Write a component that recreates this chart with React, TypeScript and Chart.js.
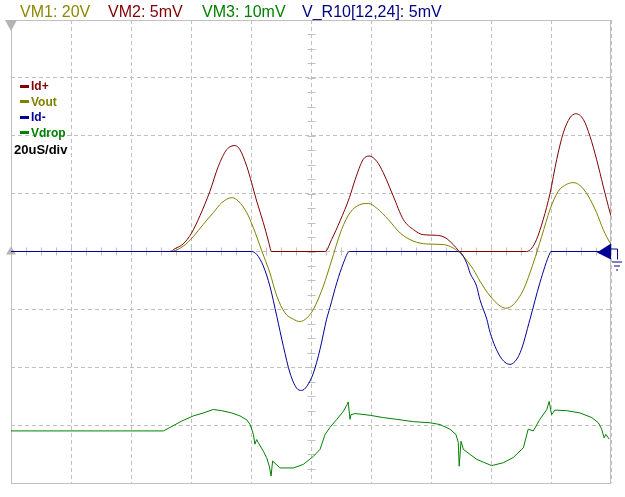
import React, { useEffect, useRef } from "react";
import { Chart, registerables } from "chart.js";

Chart.register(...registerables);

// Time axis: 20 uS/div, 10 divisions. Vertical: 8 divisions.
const timeMin = 0;
const timeMax = 200;
const timeStep = 20;
const divMin = -4;
const divMax = 4;

const headerLabels = ["VM1: 20V", "VM2: 5mV", "VM3: 10mV", "V_R10[12,24]: 5mV"];
const headerColors = ["#8c8800", "#800000", "#008000", "#000080"];

const seriesNames = ["Id+", "Vout", "Id-", "Vdrop"];
const seriesColors = ["#800000", "#808000", "#000096", "#008000"];
const timebaseLabel = "20uS/div";

// Id+ (divisions)
const idPlusT = [0, 53, 54.7, 57.4, 60.2, 63.0, 66.3, 69.1, 71.9, 74.7, 76.3, 78.6, 80.2, 81.9, 84.1, 85.8, 86.6, 86.8,
  104.7, 106.9, 109.7, 112.8, 114.7, 117.4, 119.4, 121.9, 124.1, 127.4, 130.8, 134.1, 137.4, 141.9, 144.7, 147.4, 149.1, 149.5,
  171.9, 173.6, 175.2, 177.4, 179.7, 181.9, 184.1, 186.3, 188.3, 190.8, 193.0, 195.2, 197.4, 199.7, 200];
const idPlusV = [0, 0, 0.05, 0.13, 0.32, 0.62, 1.04, 1.47, 1.76, 1.83, 1.76, 1.47, 1.19, 0.87, 0.5, 0.18, 0.02, 0,
  0, 0.21, 0.53, 0.93, 1.24, 1.59, 1.65, 1.56, 1.36, 0.96, 0.55, 0.38, 0.29, 0.28, 0.24, 0.12, 0.02, 0,
  0, 0.06, 0.21, 0.55, 1.01, 1.59, 2.05, 2.31, 2.38, 2.28, 1.99, 1.59, 1.13, 0.67, 0.62];

// Vout
const voutT = [0, 53, 57.4, 60.8, 64.1, 67.4, 70.2, 73.6, 75.8, 78.6, 80.8, 83.6, 86.3, 88.6, 91.3, 94.1, 96.3, 98.6, 100.8,
  104.1, 106.6, 110.2, 113.0, 116.3, 119.1, 121.9, 125.8, 129.7, 134.1, 138.6, 144.1, 147.4, 150.2, 154.1, 156.3, 159.7,
  163.0, 165.0, 167.4, 170.8, 174.1, 176.9, 179.7, 182.4, 185.2, 187.4, 189.7, 192.4, 195.2, 197.4, 199.7, 200];
const voutV = [0, 0, 0.09, 0.26, 0.47, 0.67, 0.84, 0.93, 0.87, 0.67, 0.41, 0.01, -0.37, -0.77, -1.06, -1.17, -1.21, -1.15, -1.0,
  -0.6, -0.2, 0.38, 0.67, 0.81, 0.83, 0.75, 0.55, 0.32, 0.18, 0.13, 0.12, 0.06, -0.05, -0.31, -0.51, -0.77,
  -0.94, -0.98, -0.92, -0.66, -0.2, 0.26, 0.73, 1.04, 1.16, 1.19, 1.14, 0.96, 0.67, 0.38, 0.15, 0.13];

// Id-
const idMinusT = [0, 80.2, 81.9, 84.1, 86.3, 88.6, 90.8, 93.0, 95.2, 96.9, 98.6, 100.8, 103.0, 105.2, 106.3, 108.6, 110.8, 112.8,
  149.1, 151.9, 153.0, 155.2, 156.3, 158.6, 159.7, 163.0, 166.3, 169.7, 173.0, 176.3, 179.7, 180, 200];
const idMinusV = [0, 0, -0.05, -0.25, -0.6, -1.12, -1.64, -2.1, -2.36, -2.4, -2.33, -2.1, -1.69, -1.17, -0.97, -0.54, -0.2, 0,
  0, -0.2, -0.37, -0.6, -0.83, -1.17, -1.4, -1.81, -1.95, -1.75, -1.17, -0.54, -0.02, 0, 0];

// Vdrop
const vdropT = [0, 50.8, 53.0, 56.9, 60.8, 64.1, 67.4, 70.2, 73.6, 76.3, 78.6, 79.7, 80.8, 81.3, 81.9, 82.4, 84.1, 85.2, 86.1, 86.7,
  87.2, 88.0, 89.7, 94.1, 97.4, 100.8, 103.0, 104.7, 106.3, 108.6, 110.8, 112.1, 112.4, 113.0, 113.3, 114.7, 119.7, 124.1,
  128.6, 134.1, 139.7, 143.0, 146.3, 148.3, 149.1, 149.4, 150.0, 150.8, 155.2, 160.2, 164.1, 167.4, 170.8, 172.4, 174.1,
  176.3, 178.6, 179.4, 180.2, 181.3, 185.2, 189.7, 193.6, 195.8, 196.9, 197.7, 198.3, 199.4];
const vdropV = [-3.1, -3.1, -3.04, -2.93, -2.84, -2.79, -2.73, -2.75, -2.79, -2.84, -2.91, -2.99, -3.16, -3.33, -3.25, -3.3, -3.45, -3.56, -3.71, -3.88,
  -3.62, -3.66, -3.74, -3.74, -3.68, -3.54, -3.42, -3.16, -3.04, -2.9, -2.76, -2.64, -2.6, -2.9, -2.82, -2.8, -2.83, -2.87,
  -2.9, -2.94, -2.96, -2.99, -3.07, -3.16, -3.3, -3.71, -3.28, -3.42, -3.59, -3.7, -3.65, -3.56, -3.39, -3.07, -3.1,
  -2.9, -2.73, -2.59, -2.82, -2.74, -2.75, -2.79, -2.87, -2.96, -3.07, -3.22, -3.16, -3.24];

const toPoints = (t: number[], v: number[]) => t.map((x, i) => ({ x, y: v[i] }));

const FRAME = "#c0c0c0";

const scopePlugin = {
  id: "scopeDecor",
  beforeDatasetsDraw(chart: any) {
    const { ctx, chartArea: a, scales } = chart;
    const xs = scales.x;
    const ys = scales.y;
    ctx.save();
    ctx.setLineDash([]);
    ctx.strokeStyle = FRAME;
    ctx.lineWidth = 1;
    // frame
    ctx.strokeRect(Math.round(a.left) + 0.5, Math.round(a.top) + 0.5, Math.round(a.right - a.left) - 1, Math.round(a.bottom - a.top));
    // center minor ticks
    const cx = Math.round(xs.getPixelForValue((timeMin + timeMax) / 2)) + 0.5;
    const cy = Math.round(ys.getPixelForValue(0)) - 0.5;
    ctx.beginPath();
    for (let v = divMin; v <= divMax; v += 0.25) {
      const y = Math.round(ys.getPixelForValue(v)) + 0.5;
      ctx.moveTo(cx - 4, y);
      ctx.lineTo(cx + 4, y);
    }
    for (let t = timeMin; t <= timeMax; t += timeStep / 4) {
      const x = Math.round(xs.getPixelForValue(t)) + 0.5;
      ctx.moveTo(x, cy - 4);
      ctx.lineTo(x, cy + 4);
    }
    ctx.stroke();
    // gray trigger / ground markers
    const lx = xs.getPixelForValue(timeMin);
    ctx.fillStyle = "#b4b4b4";
    ctx.beginPath();
    ctx.moveTo(lx - 6, a.top);
    ctx.lineTo(lx + 6, a.top);
    ctx.lineTo(lx, a.top + 11);
    ctx.closePath();
    ctx.fill();
    const gy = ys.getPixelForValue(0);
    ctx.beginPath();
    ctx.moveTo(lx, gy - 5);
    ctx.lineTo(lx + 5, gy + 3);
    ctx.lineTo(lx - 5, gy + 3);
    ctx.closePath();
    ctx.fill();
    ctx.restore();
  },
  afterDatasetsDraw(chart: any) {
    const { ctx, chartArea: a, scales } = chart;
    const xs = scales.x;
    const ys = scales.y;
    ctx.save();
    // header
    ctx.font = "16px 'Liberation Sans', Arial, sans-serif";
    ctx.textBaseline = "alphabetic";
    const hx = [20, 108, 202, 302];
    headerLabels.forEach((s, i) => {
      ctx.fillStyle = headerColors[i];
      ctx.fillText(s, hx[i], 17);
    });
    // legend
    ctx.font = "bold 12px 'Liberation Sans', Arial, sans-serif";
    ctx.textBaseline = "middle";
    seriesNames.forEach((s, i) => {
      const y = 86 + i * 15.4;
      ctx.fillStyle = seriesColors[i];
      ctx.fillRect(a.left + 9, Math.round(y) - 1, 9, 3);
      ctx.fillText(s, a.left + 20, y + 1);
    });
    ctx.fillStyle = "#000000";
    ctx.font = "bold 13px 'Liberation Sans', Arial, sans-serif";
    ctx.fillText(timebaseLabel, a.left + 3, 150);
    // right-side ground reference marker (blue)
    const rx = xs.getPixelForValue(timeMax);
    const gy = ys.getPixelForValue(0);
    ctx.fillStyle = seriesColors[2];
    ctx.beginPath();
    ctx.moveTo(rx - 14, gy + 1);
    ctx.lineTo(rx, gy - 8);
    ctx.lineTo(rx, gy + 8);
    ctx.closePath();
    ctx.fill();
    ctx.strokeStyle = seriesColors[2];
    ctx.lineWidth = 1;
    ctx.beginPath();
    ctx.moveTo(rx, gy - 2.5);
    ctx.lineTo(rx + 6.5, gy - 2.5);
    ctx.lineTo(rx + 6.5, gy + 8);
    ctx.moveTo(rx + 1, gy + 10.5);
    ctx.lineTo(rx + 11, gy + 10.5);
    ctx.moveTo(rx + 3, gy + 14.5);
    ctx.lineTo(rx + 9, gy + 14.5);
    ctx.moveTo(rx + 5, gy + 18.5);
    ctx.lineTo(rx + 7, gy + 18.5);
    ctx.stroke();
    ctx.restore();
  },
};

export default function App() {
  const ref = useRef<HTMLCanvasElement | null>(null);
  useEffect(() => {
    if (!ref.current) return;
    const smooth = { cubicInterpolationMode: "monotone" };
    const chart = new Chart(ref.current, {
      type: "line",
      data: {
        datasets: [
          { label: seriesNames[3], data: toPoints(vdropT, vdropV), borderColor: seriesColors[3], order: 4 },
          { label: seriesNames[0], data: toPoints(idPlusT, idPlusV), borderColor: seriesColors[0], order: 3, ...smooth },
          { label: seriesNames[1], data: toPoints(voutT, voutV), borderColor: seriesColors[1], order: 2, ...smooth },
          { label: seriesNames[2], data: toPoints(idMinusT, idMinusV), borderColor: seriesColors[2], order: 1, ...smooth },
        ],
      },
      options: {
        responsive: false,
        animation: false,
        events: [],
        layout: { padding: { left: 11, top: 20, right: 14, bottom: 14 } },
        plugins: { legend: { display: false }, tooltip: { enabled: false }, title: { display: false } },
        elements: {
          point: { radius: 0 },
          line: { tension: 0, borderWidth: 1, fill: false },
        },
        scales: {
          x: {
            type: "linear",
            min: timeMin,
            max: timeMax,
            ticks: { display: false, stepSize: timeStep },
            grid: { color: FRAME, drawTicks: false, lineWidth: 1 },
            border: { display: false, dash: [4, 3] },
          },
          y: {
            type: "linear",
            min: divMin,
            max: divMax,
            ticks: { display: false, stepSize: 1 },
            grid: { color: FRAME, drawTicks: false, lineWidth: 1 },
            border: { display: false, dash: [4, 3] },
          },
        },
      },
      plugins: [scopePlugin],
    } as any);
    return () => chart.destroy();
  }, []);
  return (
    <div style={{ position: "fixed", left: 0, top: 0, width: 625, height: 497, background: "#ffffff" }}>
      <canvas ref={ref} width={625} height={497} style={{ display: "block" }} />
    </div>
  );
}
